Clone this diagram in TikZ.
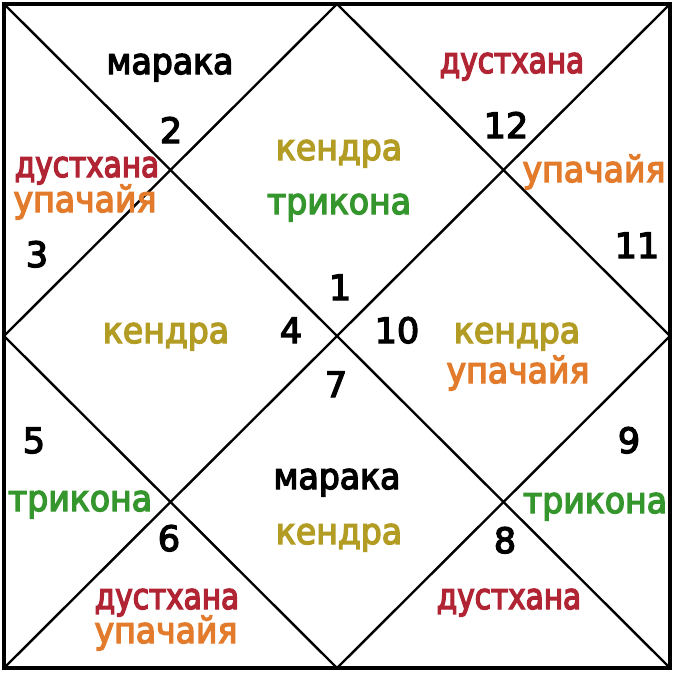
\documentclass[tikz,border=0pt]{standalone}
\usepackage{fontspec}
\setmainfont[FakeBold=3.8,FakeStretch=0.92]{DejaVu Sans}
\newfontfamily\dustfont[FakeBold=3.8,FakeStretch=0.82]{DejaVu Sans}
\newfontfamily\numfont[FakeBold=3.8]{DejaVu Sans}
\definecolor{kred}{RGB}{176,36,52}
\definecolor{korange}{RGB}{226,124,44}
\definecolor{kolive}{RGB}{178,156,36}
\definecolor{kgreen}{RGB}{52,150,44}
\tikzset{
  frame/.style={line width=4pt, line join=miter},
  chartline/.style={line width=2.4pt},
  lbl/.style={anchor=base, inner sep=0pt, font=\fontsize{36}{40}\selectfont},
  num/.style={lbl, text=black, font=\numfont\fontsize{35}{40}\selectfont},
  maraka/.style={lbl, text=black},
  dust/.style={lbl, text=kred, font=\dustfont\fontsize{36}{40}\selectfont},
  upa/.style={lbl, text=korange},
  kendra/.style={lbl, text=kolive},
  trik/.style={lbl, text=kgreen},
}
\begin{document}
\begin{tikzpicture}[x=1pt,y=-1pt]
\useasboundingbox[fill=white] (0,0) rectangle (676,672);
% corners and midpoints
\coordinate (tl) at (4,4);
\coordinate (tr) at (670,4);
\coordinate (br) at (670,668);
\coordinate (bl) at (4,668);
\coordinate (mt) at (337,4);
\coordinate (mr) at (670,336);
\coordinate (mb) at (337,668);
\coordinate (ml) at (4,336);
% lines
\draw[chartline] (tl) -- (br);
\draw[chartline] (tr) -- (bl);
\draw[chartline] (mt) -- (mr) -- (mb) -- (ml) -- cycle;
\draw[frame] (tl) rectangle (br);
% house numbers
\node[num] (n1) at (340,300) {1};
\node[num] (n2) at (171,143) {2};
\node[num] (n3) at (37,267) {3};
\node[num] (n4) at (291,343) {4};
\node[num] (n5) at (34,453) {5};
\node[num] (n6) at (169,551) {6};
\node[num] (n7) at (336,397) {7};
\node[num] (n8) at (505,553) {8};
\node[num] (n9) at (629,453) {9};
\node[num] (n10) at (397,343) {10};
\node[num] (n11) at (637,258) {11};
\node[num] (n12) at (506,138) {12};
% labels
\node[maraka] (m1) at (170,74) {марака};
\node[dust] (d12) at (512,73) {дустхана};
\node[kendra] (k1) at (339,160) {кендра};
\node[trik] (t1) at (339,214) {трикона};
\node[dust] (d3) at (87,177) {дустхана};
\node[upa] (u3) at (85,212) {упачайя};
\node[upa] (u11) at (594,182) {упачайя};
\node[kendra] (k4) at (166,343) {кендра};
\node[kendra] (k10) at (517,343) {кендра};
\node[upa] (u10) at (518,383) {упачайя};
\node[maraka] (m7) at (337,489) {марака};
\node[kendra] (k7) at (339,544) {кендра};
\node[trik] (t5) at (80,511) {трикона};
\node[trik] (t9) at (595,513) {трикона};
\node[dust] (d6) at (167,609) {дустхана};
\node[upa] (u6) at (166,643) {упачайя};
\node[dust] (d8) at (509,609) {дустхана};
\end{tikzpicture}
\end{document}
